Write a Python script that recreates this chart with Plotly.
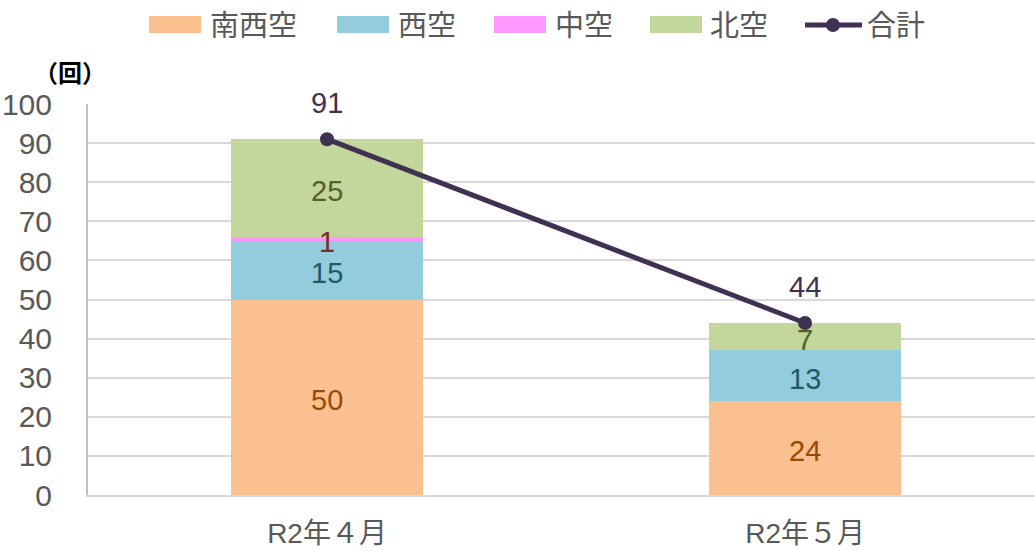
import plotly.graph_objects as go

categories = ["R2年４月", "R2年５月"]
nansei = [50, 24]
seibu = [15, 13]
chubu = [1, 0]
hokubu = [25, 7]
total = [91, 44]

FONT = "Liberation Sans, Arial, Noto Sans CJK JP, sans-serif"
W, H = 1035, 551
ML, MR, MT, MB = 88, 0, 104, 56
PW, PH = W - ML - MR, H - MT - MB


def px(x):
    return (x - ML) / PW


def py(y):
    return (H - MB - y) / PH


series = [
    ("南西空", nansei, "#FAC090", "#984807"),
    ("西空", seibu, "#93CDDD", "#215967"),
    ("中空", chubu, "#FF99FF", "#7A2A2A"),
    ("北空", hokubu, "#C3D69B", "#4F6228"),
]

fig = go.Figure()
for name, vals, col, tcol in series:
    fig.add_trace(go.Bar(
        x=categories, y=vals, name=name, showlegend=False,
        marker=dict(color=col, line=dict(width=0)),
        hoverinfo="skip",
    ))

fig.add_trace(go.Scatter(
    x=categories, y=total, name="合計", mode="lines+markers", showlegend=False,
    line=dict(color="#403152", width=5),
    marker=dict(color="#403152", size=14),
))

# segment labels (drawn on top)
base = [0] * len(categories)
for name, vals, col, tcol in series:
    for c, b, v in zip(categories, base, vals):
        if v:
            fig.add_annotation(x=c, y=b + v / 2, text=str(v), showarrow=False,
                               yshift=-3,
                               font=dict(color=tcol, size=29, family=FONT))
    base = [b + v for b, v in zip(base, vals)]

for c, t in zip(categories, total):
    fig.add_annotation(x=c, y=t, text=str(t), showarrow=False, yshift=36,
                       font=dict(color="#403152", size=29, family=FONT))

fig.add_annotation(xref="paper", yref="paper", x=px(70), y=py(71), text="<b>（回）</b>",
                   showarrow=False, xanchor="center", yanchor="middle",
                   font=dict(color="#000000", size=24, family="Noto Sans CJK JP"))

# legend
legend_items = [
    ("南西空", "#FAC090", 149, 201, 208),
    ("西空", "#93CDDD", 337, 389, 396),
    ("中空", "#FF99FF", 494, 546, 553),
    ("北空", "#C3D69B", 650, 702, 708),
]
shapes = []
for name, col, x0, x1, tx in legend_items:
    shapes.append(dict(type="rect", xref="paper", yref="paper",
                       x0=px(x0), x1=px(x1), y0=py(33), y1=py(16),
                       fillcolor=col, line=dict(width=0)))
    fig.add_annotation(xref="paper", yref="paper", x=px(tx), y=py(26), text=name,
                       showarrow=False, xanchor="left", yanchor="middle",
                       font=dict(color="#595959", size=29, family=FONT))
shapes.append(dict(type="line", xref="paper", yref="paper",
                   x0=px(805), x1=px(862), y0=py(25), y1=py(25),
                   line=dict(color="#403152", width=5)))
shapes.append(dict(type="circle", xref="paper", yref="paper",
                   x0=px(826), x1=px(840), y0=py(32), y1=py(18),
                   fillcolor="#403152", line=dict(width=0)))
fig.add_annotation(xref="paper", yref="paper", x=px(865), y=py(26), text="合計",
                   showarrow=False, xanchor="left", yanchor="middle",
                   font=dict(color="#595959", size=29, family=FONT))

fig.update_layout(
    width=W, height=H,
    barmode="stack", bargap=0.6,
    paper_bgcolor="white", plot_bgcolor="white",
    margin=dict(l=ML, r=MR, t=MT, b=MB),
    font=dict(family=FONT, color="#595959", size=24),
    showlegend=False,
    shapes=shapes,
)
fig.update_xaxes(range=[-0.5, 1.481], showgrid=False, showline=True,
                 linecolor="#D9D9D9", linewidth=2, ticks="",
                 tickfont=dict(size=28, color="#595959"), ticklabelstandoff=12)
fig.update_yaxes(range=[0, 100], dtick=10, showgrid=True, gridcolor="#D9D9D9",
                 gridwidth=2, showline=True, linecolor="#BFBFBF", linewidth=2,
                 ticks="", zeroline=False,
                 tickfont=dict(size=30, color="#595959"), ticklabelstandoff=28)

fig.write_html("out.html", config={"displayModeBar": False},
               post_script="document.body.style.margin='0';document.body.style.overflow='hidden';")
